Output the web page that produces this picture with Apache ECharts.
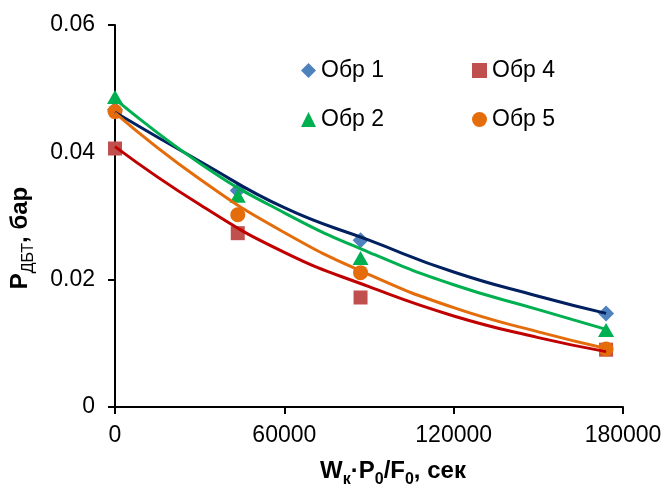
<!DOCTYPE html>
<html>
<head>
<meta charset="utf-8">
<script src="https://cdn.jsdelivr.net/npm/echarts@6/dist/echarts.min.js"></script>
<style>
  html, body { margin: 0; padding: 0; background: #fff; }
  #chart { width: 667px; height: 493px; }
</style>
</head>
<body>
<div id="chart"></div>
<script>
// измеренные точки
const xValues = [0, 43500, 87000, 174000]
const obr1 = [0.0467, 0.0340, 0.0262, 0.0147]
const obr2 = [0.0487, 0.0332, 0.0234, 0.0121]
const obr4 = [0.0406, 0.0273, 0.0172, 0.0090]
const obr5 = [0.0464, 0.0302, 0.0211, 0.0091]

// линии тренда
const trendX = [0, 30000, 60000, 90000, 120000, 150000, 174000]
const trend1 = [0.0463, 0.0386, 0.0313, 0.0262, 0.0212, 0.0174, 0.0147]
const trend2 = [0.0484, 0.0383, 0.0305, 0.0243, 0.0192, 0.0153, 0.0122]
const trend4 = [0.0409, 0.0318, 0.0243, 0.0189, 0.0143, 0.0109, 0.0087]
const trend5 = [0.0462, 0.0358, 0.0274, 0.0208, 0.0156, 0.0118, 0.0092]

const font = '"Liberation Sans", Arial, sans-serif'
const pairs = (xs, ys) => xs.map((x, i) => [x, ys[i]])

const chart = echarts.init(document.getElementById('chart'))

// точки
const scatter = (name, ys, symbol, size, color) => ({
  name,
  type: 'scatter',
  symbol,
  symbolSize: size,
  itemStyle: { color, opacity: 1 },
  z: 2,
  data: pairs(xValues, ys)
})

// тренд
const trend = (ys, color) => ({
  type: 'line',
  smooth: true,
  showSymbol: false,
  silent: true,
  z: 3,
  lineStyle: { width: 3, color },
  data: pairs(trendX, ys)
})

const legendBase = {
  orient: 'vertical',
  top: 54,
  itemGap: 26,
  itemWidth: 15,
  itemHeight: 15,
  textStyle: { fontFamily: font, fontSize: 23, color: '#000' }
}

const options = {
  animation: false,
  grid: { left: 114, right: 44, top: 25, bottom: 81 },
  legend: [
    Object.assign({}, legendBase, { left: 296, data: ['Обр 1', 'Обр 2'] }),
    Object.assign({}, legendBase, { left: 467, data: ['Обр 4', 'Обр 5'] })
  ],
  xAxis: {
    type: 'value',
    min: 0,
    max: 180000,
    interval: 60000,
    splitLine: { show: false },
    axisLine: { show: true, lineStyle: { color: '#000', width: 2 } },
    axisTick: { show: true, length: 7, lineStyle: { color: '#000', width: 2 } },
    axisLabel: { fontFamily: font, fontSize: 23, color: '#000', margin: 17, formatter: v => String(v) },
    name: '{b|W}{s|к}{b|·P}{s|0}{b|/F}{s|0}{b|, сек}',
    nameLocation: 'middle',
    nameGap: 52,
    nameTextStyle: {
      padding: [0, 0, 0, 48],
      rich: {
        b: { fontFamily: font, fontSize: 24, fontWeight: 'bold', color: '#000', verticalAlign: 'bottom', padding: [0, 0, 5, 0] },
        s: { fontFamily: font, fontSize: 16, fontWeight: 'bold', color: '#000', verticalAlign: 'bottom' }
      }
    }
  },
  yAxis: {
    type: 'value',
    min: 0,
    max: 0.06,
    interval: 0.02,
    splitLine: { show: false },
    axisLine: { show: true, lineStyle: { color: '#000', width: 2 } },
    axisTick: { show: true, length: 7, lineStyle: { color: '#000', width: 2 } },
    axisLabel: { fontFamily: font, fontSize: 23, color: '#000', margin: 20 },
    name: '{b|P}{s|ДБТ}{b|, бар}',
    nameLocation: 'middle',
    nameGap: 78,
    nameTextStyle: {
      padding: [0, 44, 0, 0],
      rich: {
        b: { fontFamily: font, fontSize: 24, fontWeight: 'bold', color: '#000', verticalAlign: 'bottom', padding: [0, 0, 5, 0] },
        s: { fontFamily: font, fontSize: 16, color: '#000', verticalAlign: 'bottom' }
      }
    }
  },
  series: [
    scatter('Обр 1', obr1, 'diamond', 16, '#4F81BD'),
    scatter('Обр 4', obr4, 'rect', 14, '#C0504D'),
    scatter('Обр 2', obr2, 'triangle', [16, 14], '#00B050'),
    scatter('Обр 5', obr5, 'circle', 15, '#E46C0A'),
    trend(trend1, '#002060'),
    trend(trend4, '#C00000'),
    trend(trend2, '#00B050'),
    trend(trend5, '#E46C0A')
  ]
}

chart.setOption(options)
</script>
</body>
</html>
